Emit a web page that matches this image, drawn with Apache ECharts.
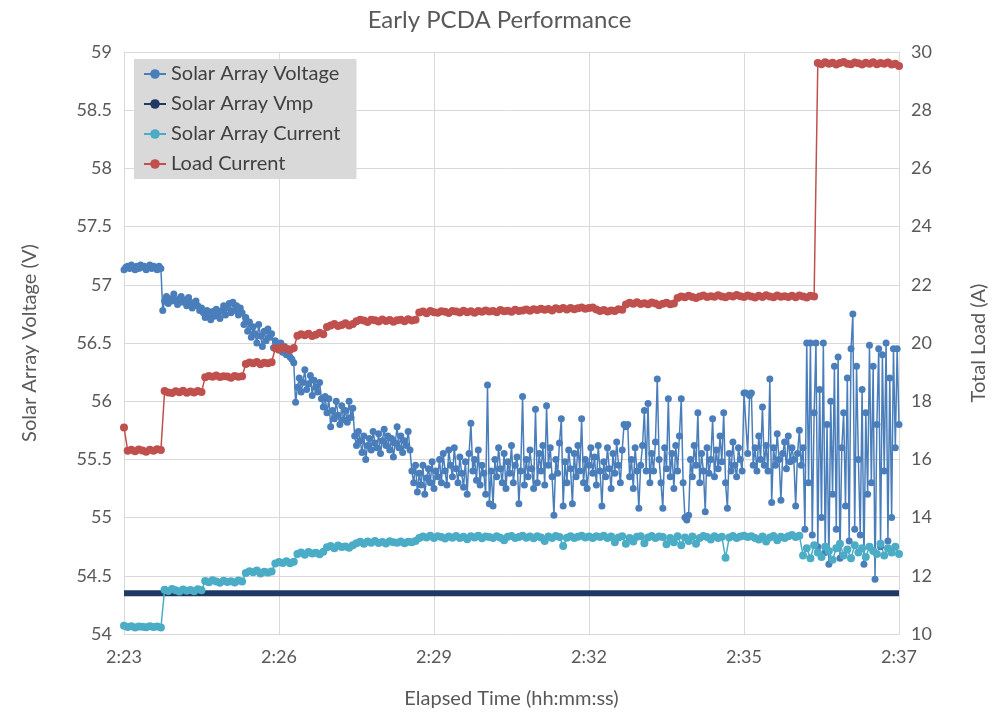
<!DOCTYPE html>
<html>
<head>
<meta charset="utf-8">
<title>Early PCDA Performance</title>
<script src="https://cdn.jsdelivr.net/npm/echarts@6/dist/echarts.min.js"></script>
<style>
  html, body { margin: 0; padding: 0; background: #ffffff; }
  #chart { width: 999px; height: 714px; }
</style>
</head>
<body>
<div id="chart"></div>
<script>
// Run window 2:23 .. 2:37, elapsed seconds on the x axis
const SPAN_SECONDS = 840;
const TICK_SECONDS = 168;            // five equal divisions
const timeTickLabels = ['2:23', '2:26', '2:29', '2:32', '2:35', '2:37'];

// Voltage is logged every 2 s, currents every 4 s
const VOLTAGE_STEP = 2;
const CURRENT_STEP = 4;

// Solar array voltage (V), left axis
const solarArrayVoltage = [
  57.13, 57.15, 57.16, 57.14, 57.17, 57.15, 57.13, 57.16, 57.14, 57.17,
  57.15, 57.16, 57.13, 57.15, 57.17, 57.14, 57.16, 57.15, 57.13, 57.16,
  57.14, 56.78, 56.86, 56.9, 56.84, 56.88, 56.86, 56.92, 56.87, 56.83,
  56.88, 56.9, 56.85, 56.87, 56.82, 56.89, 56.85, 56.8, 56.84, 56.86,
  56.82, 56.78, 56.8, 56.76, 56.72, 56.78, 56.74, 56.7, 56.77, 56.73,
  56.79, 56.75, 56.71, 56.78, 56.82, 56.74, 56.8, 56.84, 56.76, 56.85,
  56.78, 56.82, 56.74, 56.8, 56.76, 56.66, 56.72, 56.6, 56.68, 56.55,
  56.64, 56.58, 56.5, 56.66, 56.56, 56.47, 56.6, 56.52, 56.62, 56.55,
  56.58, 56.46, 56.52, 56.48, 56.44, 56.5, 56.42, 56.47, 56.4, 56.45,
  56.38, 56.36, 56.33, 55.99, 56.12, 56.2, 56.08, 56.16, 56.27, 56.1,
  56.15, 56.22, 56.05, 56.18, 56.12, 56.08, 56.16, 56.02, 55.95, 56.04,
  55.9, 56.02, 55.78, 55.92, 55.85, 56.0, 55.88, 55.8, 55.96, 55.84,
  55.92, 55.82, 56.0, 55.86, 55.94, 55.7, 55.62, 55.74, 55.66, 55.56,
  55.7, 55.5, 55.62, 55.68, 55.58, 55.74, 55.64, 55.6, 55.72, 55.55,
  55.66, 55.76, 55.62, 55.7, 55.58, 55.68, 55.52, 55.64, 55.78, 55.6,
  55.7, 55.56, 55.66, 55.62, 55.74, 55.58, 55.4, 55.3, 55.45, 55.22,
  55.38, 55.28, 55.45, 55.2, 55.34, 55.42, 55.3, 55.48, 55.25, 55.4,
  55.35, 55.5, 55.3, 55.55, 55.4, 55.28, 55.58, 55.45, 55.35, 55.6,
  55.42, 55.3, 55.52, 55.38, 55.26, 55.48, 55.2, 55.55, 55.81, 55.4,
  55.5, 55.32, 55.58, 55.28, 55.45, 55.38, 55.2, 56.14, 55.12, 55.4,
  55.1, 55.5, 55.35, 55.6, 55.42, 55.3, 55.55, 55.25, 55.48, 55.38,
  55.62, 55.3, 55.45, 55.52, 55.12, 55.4, 56.04, 55.28, 55.5, 55.35,
  55.58, 55.42, 55.25, 55.93, 55.3, 55.55, 55.4, 55.62, 55.28, 55.96,
  55.45, 55.6, 55.35, 55.02, 55.5, 55.38, 55.64, 55.85, 55.1, 55.48,
  55.3, 55.58, 55.42, 55.12, 55.55, 55.35, 55.62, 55.4, 55.85, 55.3,
  55.5, 55.25, 55.45, 55.6, 55.38, 55.52, 55.28, 55.62, 55.4, 55.1,
  55.48, 55.35, 55.6, 55.42, 55.25, 55.55, 55.38, 55.65, 55.45, 55.3,
  55.58, 55.8, 55.78, 55.8, 55.35, 55.5, 55.25, 55.6, 55.4, 55.08,
  55.45, 55.62, 55.92, 55.4, 55.98, 55.3, 55.55, 55.4, 55.65, 56.19,
  55.5, 55.3, 55.08, 55.6, 55.42, 56.02, 55.35, 55.55, 55.25, 55.62,
  55.4, 55.7, 56.02, 55.3, 55.0, 54.98, 55.02, 55.5, 55.35, 55.62,
  55.45, 55.9, 55.3, 55.55, 55.4, 55.05, 55.6, 55.38, 55.5, 55.85,
  55.35, 55.58, 55.42, 55.7, 55.48, 55.9, 55.3, 55.08, 55.55, 55.4,
  55.65, 55.45, 55.35, 55.6, 55.5, 55.4, 56.07, 56.07, 55.55, 56.05,
  56.07, 55.45, 55.6, 55.4, 55.7, 55.5, 55.95, 55.45, 55.62, 55.4,
  56.19, 55.13, 55.6, 55.45, 55.72, 55.5, 55.15, 55.55, 55.65, 55.42,
  55.7, 55.48, 55.6, 55.5, 55.1, 55.55, 55.75, 55.45, 55.6, 54.9,
  56.5, 55.3, 56.5, 54.85, 55.9, 56.5, 54.75, 56.1, 55.0, 56.5,
  54.7, 55.8, 54.6, 56.0, 55.2, 56.3, 54.9, 56.38, 54.65, 55.6,
  55.9, 55.1, 56.2, 54.8, 56.45, 56.75, 54.9, 56.3, 55.5, 54.85,
  56.1, 54.6, 55.9, 55.2, 56.48, 55.3, 56.3, 54.47, 55.8, 56.45,
  54.75, 56.4, 55.4, 56.5, 54.8, 56.2, 55.0, 56.45, 55.6, 56.45,
  55.8
];

// Maximum-power-point voltage (V), constant over the run
const vmpTimes = [0, 840];
const solarArrayVmp = [54.35, 54.35];

// Solar array current (A), right axis
const solarArrayCurrent = [
  10.28, 10.24, 10.27, 10.22, 10.26, 10.25, 10.23, 10.27, 10.24, 10.26,
  10.22, 11.52, 11.48, 11.55, 11.5, 11.46, 11.53, 11.49, 11.51, 11.47,
  11.54, 11.5, 11.82, 11.78, 11.85, 11.8, 11.76, 11.83, 11.79, 11.81,
  11.77, 11.84, 11.8, 12.1, 12.16, 12.12, 12.18, 12.08, 12.14, 12.11,
  12.15, 12.42, 12.47, 12.44, 12.5, 12.43, 12.48, 12.75, 12.8, 12.72,
  12.82, 12.77, 12.79, 12.74, 12.83, 12.98, 13.02, 12.95, 13.04, 12.99,
  13.01, 12.96, 13.05, 13.12, 13.17, 13.1, 13.18, 13.14, 13.2, 13.13,
  13.16, 13.11, 13.19, 13.15, 13.14, 13.18, 13.12, 13.17, 13.15, 13.2,
  13.3, 13.35, 13.32, 13.38, 13.3, 13.36, 13.33, 13.28, 13.35, 13.31,
  13.37, 13.3, 13.34, 13.26, 13.36, 13.32, 13.38, 13.29, 13.35, 13.33,
  13.3, 13.36, 13.31, 13.22, 13.34, 13.37, 13.3, 13.33, 13.38, 13.31,
  13.35, 13.29, 13.36, 13.32, 13.2, 13.35, 13.3, 13.37, 13.33, 13.02,
  13.31, 13.36, 13.3, 13.34, 13.38, 13.32, 13.35, 13.3, 13.36, 13.33,
  13.38, 13.3, 13.35, 13.15, 13.32, 13.36, 13.1, 13.3, 13.18, 13.34,
  13.36, 13.12, 13.32, 13.37, 13.3, 13.35, 13.33, 13.08, 13.3, 13.15,
  13.36, 13.05, 13.32, 13.2, 13.35, 13.1, 13.3, 13.37, 13.33, 13.25,
  13.36, 13.3, 13.34, 12.62, 13.32, 13.37, 13.3, 13.35, 13.38, 13.33,
  13.36, 13.3, 13.25, 13.35, 13.18, 13.32, 13.37, 13.22, 13.34, 13.3,
  13.36, 13.4, 13.33, 13.38, 12.7, 12.95, 12.6, 13.05, 12.8, 12.65,
  13.0, 12.85, 12.55, 12.95, 13.1, 12.7, 12.9, 12.6, 13.05, 12.8,
  12.95, 12.65, 13.0, 12.85, 12.75, 13.1, 12.7, 12.95, 12.8, 13.0,
  12.75
];

// Total load current (A), right axis
const loadCurrent = [
  17.1, 16.3, 16.33, 16.28, 16.34, 16.31, 16.26, 16.33, 16.3, 16.35,
  16.32, 18.35, 18.3, 18.28, 18.34, 18.31, 18.36, 18.29, 18.33, 18.3,
  18.35, 18.32, 18.82, 18.87, 18.84, 18.88, 18.83, 18.86, 18.85, 18.81,
  18.87, 18.84, 18.86, 19.28, 19.33, 19.3, 19.35, 19.27, 19.32, 19.3,
  19.34, 19.82, 19.78, 19.85, 19.8, 19.76, 19.83, 20.25, 20.3, 20.27,
  20.32, 20.24, 20.28, 20.35, 20.3, 20.55, 20.6, 20.65, 20.58, 20.62,
  20.68, 20.6, 20.65, 20.75, 20.8, 20.77, 20.72, 20.8, 20.78, 20.74,
  20.81, 20.76, 20.79, 20.73, 20.78, 20.8, 20.75, 20.82, 20.77, 20.8,
  21.05, 21.08, 21.02, 21.1, 21.06, 21.04, 21.09, 21.07, 21.03, 21.1,
  21.08, 21.05, 21.11, 21.06, 21.09, 21.04, 21.1, 21.07, 21.12, 21.08,
  21.1, 21.06, 21.13, 21.09, 21.11, 21.07, 21.14, 21.1, 21.12, 21.15,
  21.11, 21.16, 21.13, 21.18, 21.14, 21.17, 21.12, 21.19, 21.16, 21.2,
  21.15, 21.2, 21.16, 21.19, 21.22, 21.18, 21.2, 21.22, 21.15, 21.1,
  21.13, 21.08, 21.12, 21.1, 21.16, 21.14, 21.32, 21.38, 21.35, 21.4,
  21.34, 21.37, 21.33, 21.39, 21.36, 21.3, 21.35, 21.38, 21.33, 21.36,
  21.55, 21.6, 21.57, 21.62, 21.58, 21.55, 21.6, 21.63, 21.58, 21.61,
  21.59, 21.64, 21.6, 21.57, 21.62, 21.6, 21.65, 21.61, 21.58, 21.63,
  21.6, 21.56, 21.62, 21.58, 21.64, 21.6, 21.57, 21.63, 21.59, 21.61,
  21.58, 21.62, 21.57, 21.63, 21.6, 21.56, 21.62, 21.6, 29.62, 29.58,
  29.65, 29.6, 29.63, 29.57, 29.62, 29.66, 29.6, 29.58, 29.64, 29.61,
  29.57, 29.63, 29.6, 29.65, 29.58, 29.62, 29.6, 29.64, 29.57, 29.6,
  29.52
];

// Pair each sample with its elapsed time in seconds
function withTime(values, step) {
  return values.map((v, i) => [i * step, v]);
}

const TEXT = '#595959';
const GRID = '#d9d9d9';
const FONT = 'Lato';

const chart = echarts.init(document.getElementById('chart'), null, { renderer: 'canvas' });

chart.setOption({
  animation: false,
  backgroundColor: '#ffffff',
  textStyle: { fontFamily: FONT },
  title: {
    text: 'Early PCDA Performance',
    left: 'center',
    top: 3,
    textStyle: { color: TEXT, fontSize: 24, fontWeight: 'normal', fontFamily: FONT }
  },
  legend: {
    orient: 'vertical',
    left: 134,
    top: 59,
    backgroundColor: '#d9d9d9',
    padding: [4, 16, 4, 9],
    itemGap: 8,
    itemWidth: 22,
    itemHeight: 12,
    textStyle: { color: '#404040', fontSize: 20, lineHeight: 22, fontFamily: FONT },
    data: ['Solar Array Voltage', 'Solar Array Vmp', 'Solar Array Current', 'Load Current']
  },
  grid: { left: 124, right: 100, top: 52, bottom: 80, containLabel: false },
  xAxis: {
    type: 'value',
    min: 0,
    max: SPAN_SECONDS,
    interval: TICK_SECONDS,
    name: 'Elapsed Time (hh:mm:ss)',
    nameLocation: 'middle',
    nameGap: 55,
    nameTextStyle: { color: TEXT, fontSize: 20, fontFamily: FONT },
    axisLine: { show: true, lineStyle: { color: GRID, width: 1 } },
    axisTick: { show: false },
    axisLabel: {
      color: TEXT, fontSize: 18, margin: 14, fontFamily: FONT,
      formatter: (v) => timeTickLabels[Math.round(v / TICK_SECONDS)]
    },
    splitLine: { show: true, lineStyle: { color: GRID, width: 1 } }
  },
  yAxis: [
    {
      type: 'value',
      min: 54,
      max: 59,
      interval: 0.5,
      name: 'Solar Array Voltage (V)',
      nameLocation: 'middle',
      nameRotate: 90,
      nameGap: 84,
      nameTextStyle: { color: TEXT, fontSize: 20, fontFamily: FONT },
      axisLine: { show: true, lineStyle: { color: GRID, width: 1 } },
      axisTick: { show: false },
      axisLabel: { color: TEXT, fontSize: 18, margin: 12, fontFamily: FONT },
      splitLine: { show: true, lineStyle: { color: GRID, width: 1 } }
    },
    {
      type: 'value',
      min: 10,
      max: 30,
      interval: 2,
      position: 'right',
      name: 'Total Load (A)',
      nameLocation: 'middle',
      nameRotate: 90,
      nameGap: 70,
      nameTextStyle: { color: TEXT, fontSize: 20, fontFamily: FONT },
      axisLine: { show: true, lineStyle: { color: GRID, width: 1 } },
      axisTick: { show: false },
      axisLabel: { color: TEXT, fontSize: 18, margin: 12, fontFamily: FONT },
      splitLine: { show: false }
    }
  ],
  series: [
    {
      name: 'Solar Array Voltage',
      type: 'line',
      yAxisIndex: 0,
      data: withTime(solarArrayVoltage, VOLTAGE_STEP),
      color: '#4a7ebb',
      symbol: 'circle',
      symbolSize: 7,
      showAllSymbol: true,
      lineStyle: { width: 1.5 }
    },
    {
      name: 'Solar Array Vmp',
      type: 'line',
      yAxisIndex: 0,
      data: vmpTimes.map((t, i) => [t, solarArrayVmp[i]]),
      color: '#1f3864',
      symbol: 'circle',
      symbolSize: 7,
      showSymbol: false,
      lineStyle: { width: 6 }
    },
    {
      name: 'Solar Array Current',
      type: 'line',
      yAxisIndex: 1,
      data: withTime(solarArrayCurrent, CURRENT_STEP),
      color: '#4bacc6',
      symbol: 'circle',
      symbolSize: 8,
      showAllSymbol: true,
      lineStyle: { width: 1.5 }
    },
    {
      name: 'Load Current',
      type: 'line',
      yAxisIndex: 1,
      data: withTime(loadCurrent, CURRENT_STEP),
      color: '#c0504d',
      symbol: 'circle',
      symbolSize: 8,
      showAllSymbol: true,
      lineStyle: { width: 1.5 }
    }
  ]
});
</script>
</body>
</html>
